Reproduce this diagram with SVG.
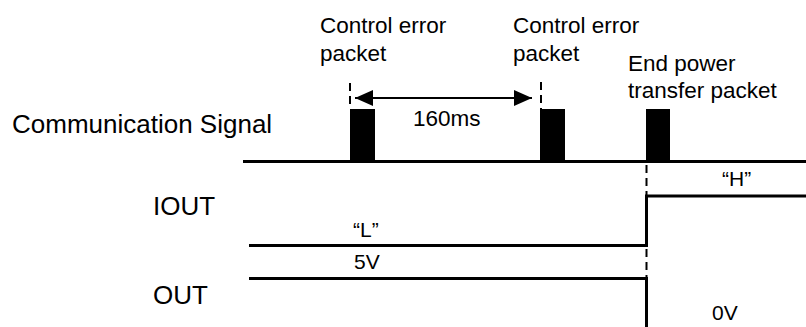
<svg xmlns="http://www.w3.org/2000/svg" width="806" height="327" viewBox="0 0 806 327">
<defs>
<style>
.t{font-family:"Liberation Sans",Arial,sans-serif;fill:#000}
.s22{font-size:22.5px}
.s26{font-size:26px}
.s20{font-size:21px}
.w{stroke:#000;stroke-width:3;fill:none}
.d{stroke:#000;stroke-width:2;fill:none;stroke-dasharray:8 5}
.pk{fill:#000}
</style>
<marker id="ah" viewBox="0 0 18 16" refX="18" refY="8" markerWidth="18" markerHeight="16" markerUnits="userSpaceOnUse" orient="auto-start-reverse">
<path d="M0,0 L18,8 L0,16 Z" fill="#000"/>
</marker>
</defs>
<rect width="806" height="327" fill="#fff"/>
<g id="labels">
<text class="t s26" x="12" y="133">Communication Signal</text>
<text class="t s26" x="153" y="215">IOUT</text>
<text class="t s26" x="153" y="304">OUT</text>
</g>
<g id="packet1">
<rect class="pk" x="350" y="109" width="25" height="52"/>
<text class="t s22" x="320" y="33">Control error</text>
<text class="t s22" x="320" y="61">packet</text>
</g>
<g id="packet2">
<rect class="pk" x="540" y="109" width="25" height="52"/>
<text class="t s22" x="513" y="33">Control error</text>
<text class="t s22" x="513" y="61">packet</text>
</g>
<g id="packet3">
<rect class="pk" x="646" y="109" width="24" height="52"/>
<text class="t s22" x="628" y="71">End power</text>
<text class="t s22" x="628" y="98">transfer packet</text>
</g>
<g id="signals">
<line class="w" x1="243" y1="161.5" x2="806" y2="161.5"/>
<polyline class="w" points="249,245.5 646.5,245.5 646.5,196 806,196"/>
<polyline class="w" points="249,278.5 646.5,278.5 646.5,327"/>
<text class="t s20" x="353" y="237">“L”</text>
<text class="t s20" x="354" y="269">5V</text>
<text class="t s20" x="722" y="186">“H”</text>
<text class="t s20" x="712" y="320">0V</text>
</g>
<g id="connectors">
<line class="d" x1="350" y1="83" x2="350" y2="109"/>
<line class="d" x1="541" y1="82" x2="541" y2="109"/>
<line class="d" x1="646.5" y1="165" x2="646.5" y2="196"/>
<line class="d" x1="646.5" y1="249" x2="646.5" y2="278"/>
<line x1="355" y1="98" x2="532" y2="98" stroke="#000" stroke-width="2" marker-start="url(#ah)" marker-end="url(#ah)"/>
<text class="t s22" x="413" y="126">160ms</text>
</g>
</svg>
